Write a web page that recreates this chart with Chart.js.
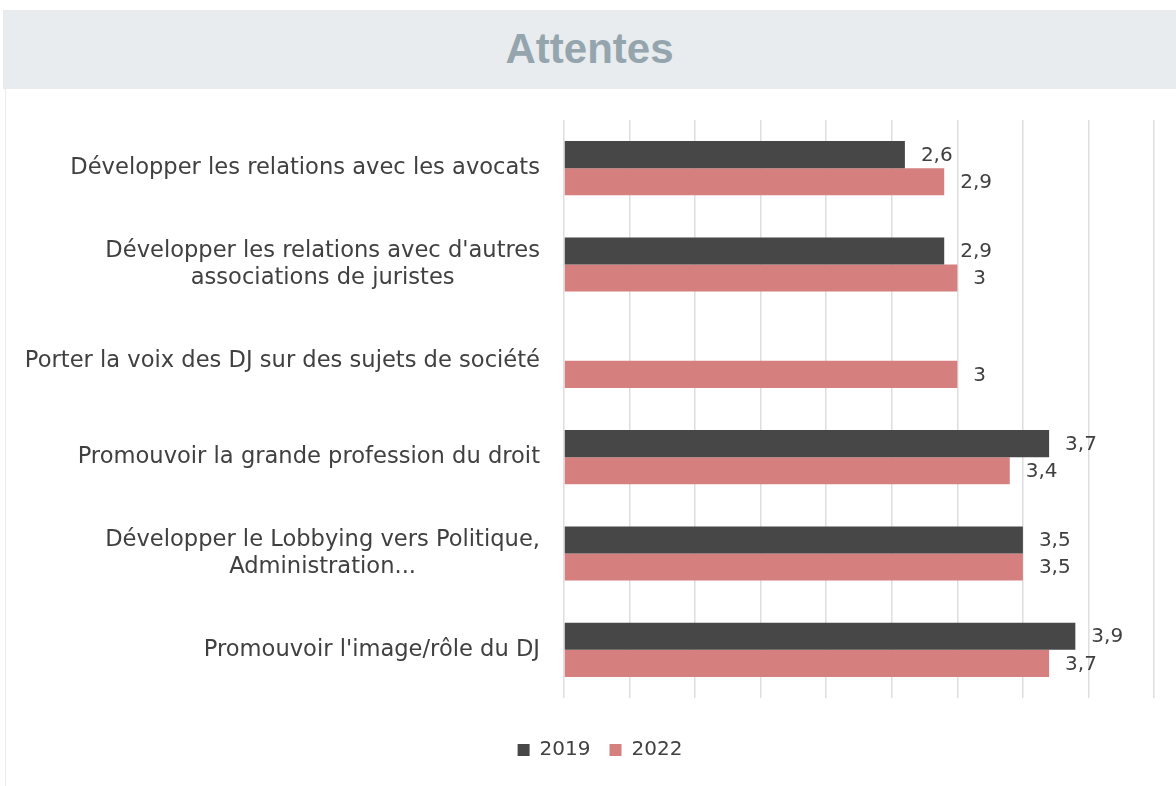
<!DOCTYPE html>
<html>
<head>
<meta charset="utf-8">
<script src="https://cdn.jsdelivr.net/npm/chart.js@4.4.1/dist/chart.umd.min.js"></script>
<style>
  html, body { margin: 0; padding: 0; background: #ffffff; }
  #card { position: relative; width: 1176px; height: 786px; overflow: hidden; }
  #header {
    position: absolute; left: 3px; top: 10px; width: 1173px; height: 79px;
    background: #e8ecef; text-align: center;
    font-family: "Liberation Sans", Arial, sans-serif; font-weight: bold;
    font-size: 42px; line-height: 77px; color: #95a5ad;
  }
  #side { position: absolute; left: 5px; top: 89px; width: 1px; height: 697px; background: #ececec; }
  #chart { position: absolute; left: 0; top: 89px; }
</style>
</head>
<body>
<div id="card">
  <div id="header">Attentes</div>
  <div id="side"></div>
  <canvas id="chart" width="1176" height="697"></canvas>
</div>
<script>
// Données du graphique
const categories = [
  ["Développer les relations avec les avocats"],
  ["Développer les relations avec d'autres", "associations de juristes"],
  ["Porter la voix des DJ sur des sujets de société"],
  ["Promouvoir la grande profession du droit"],
  ["Développer le Lobbying vers Politique,", "Administration..."],
  ["Promouvoir l'image/rôle du DJ"]
];
const seriesNames = ["2019", "2022"];
const values2019 = [2.6, 2.9, null, 3.7, 3.5, 3.9];
const values2022 = [2.9, 3.0, 3.0, 3.4, 3.5, 3.7];
const colors = ["#474747", "#d57f7f"];

const textColor = "#404040";
const fontFamily = "'DejaVu Sans', sans-serif";

// Etiquettes de valeurs à droite des barres (virgule décimale)
const valueLabels = {
  id: 'valueLabels',
  afterDatasetsDraw(chart) {
    const ctx = chart.ctx;
    ctx.save();
    ctx.font = "20px " + fontFamily;
    ctx.fillStyle = textColor;
    ctx.textAlign = "left";
    ctx.textBaseline = "middle";
    chart.data.datasets.forEach((ds, i) => {
      const meta = chart.getDatasetMeta(i);
      meta.data.forEach((bar, j) => {
        const v = ds.data[j];
        if (v === null || v === undefined) return;
        const txt = String(v).replace('.', ',');
        ctx.fillText(txt, bar.x + 16, bar.y + 1);
      });
    });
    ctx.restore();
  }
};

// Etiquettes de catégories : alignées à droite, lignes centrées entre elles
const categoryLabels = {
  id: 'categoryLabels',
  afterDraw(chart) {
    const ctx = chart.ctx;
    const yScale = chart.scales.y;
    const right = chart.chartArea.left - 24;
    const lineH = 27;
    ctx.save();
    ctx.font = "22.6px " + fontFamily;
    ctx.fillStyle = textColor;
    ctx.textBaseline = "middle";
    ctx.textAlign = "center";
    categories.forEach((lines, i) => {
      const yc = yScale.getPixelForValue(i);
      const w = Math.max(...lines.map(l => ctx.measureText(l).width));
      const xc = right - w / 2;
      const y0 = yc - (lines.length - 1) * lineH / 2;
      lines.forEach((l, k) => ctx.fillText(l, xc, y0 + k * lineH));
    });
    ctx.restore();
  }
};

const ctx = document.getElementById('chart').getContext('2d');
new Chart(ctx, {
  type: 'bar',
  data: {
    labels: categories.map(c => c.join(' ')),
    datasets: [
      { label: seriesNames[0], data: values2019, backgroundColor: colors[0] },
      { label: seriesNames[1], data: values2022, backgroundColor: colors[1] }
    ]
  },
  options: {
    indexAxis: 'y',
    responsive: false,
    animation: false,
    categoryPercentage: 0.5625,
    barPercentage: 1.0,
    layout: { padding: { left: 46, right: 22, top: 31, bottom: 16 } },
    scales: {
      x: {
        min: 0, max: 4.5,
        ticks: { display: false, stepSize: 0.5 },
        grid: { color: '#dedede', lineWidth: 1.5, drawTicks: false },
        border: { display: false },
        afterFit(scale) { scale.height += 23; }
      },
      y: {
        ticks: { display: false },
        grid: { display: false },
        border: { display: false },
        afterFit(scale) { scale.width = 518; }
      }
    },
    plugins: {
      legend: {
        position: 'bottom',
        labels: {
          boxWidth: 12, boxHeight: 12, padding: 19,
          color: textColor,
          font: { family: fontFamily, size: 20 }
        }
      },
      tooltip: { enabled: false }
    }
  },
  plugins: [valueLabels, categoryLabels]
});
</script>
</body>
</html>
